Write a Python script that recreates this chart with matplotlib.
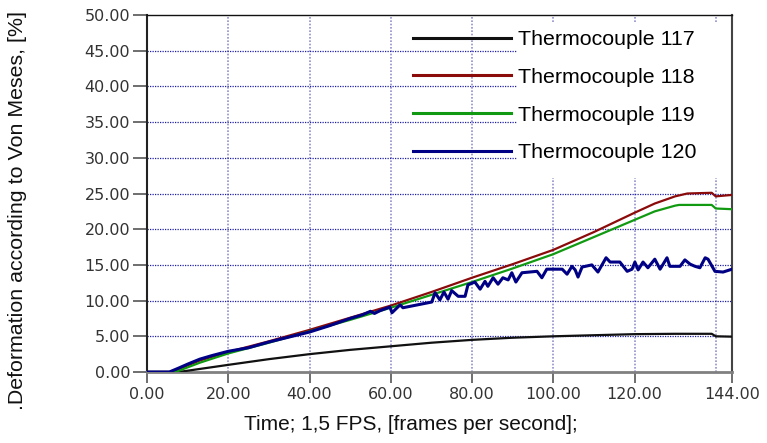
import numpy as np
import matplotlib
matplotlib.use("Agg")
import matplotlib.pyplot as plt
from matplotlib.patches import Rectangle

# values
t_117 = [0, 6, 9, 20, 30, 40, 50, 60, 70, 80, 90, 100, 110, 120, 130, 139, 140, 144]
v_117 = [0, 0, 0.1, 1.0, 1.8, 2.5, 3.1, 3.6, 4.1, 4.5, 4.8, 5.0, 5.15, 5.3, 5.35, 5.35, 5.0, 4.95]

t_118 = [0, 6, 13, 20, 30, 40, 50, 60, 70, 80, 90, 100, 110, 120, 125, 130, 133, 139, 140, 144]
v_118 = [0, 0, 1.6, 2.8, 4.3, 5.9, 7.6, 9.3, 11.2, 13.2, 15.1, 17.1, 19.6, 22.3, 23.6, 24.6, 25.0, 25.1, 24.6, 24.8]

t_119 = [0, 7, 13, 20, 30, 40, 50, 60, 70, 80, 90, 100, 110, 120, 125, 130, 131, 139, 140, 144]
v_119 = [0, 0, 1.3, 2.6, 4.1, 5.7, 7.3, 9.0, 10.8, 12.6, 14.5, 16.5, 18.9, 21.3, 22.5, 23.3, 23.4, 23.4, 22.9, 22.8]

t_120 = [0, 5.5, 8, 10, 13, 16, 20, 25, 30, 35, 40, 45, 50, 53, 55, 56, 57.4, 59.8, 60.3, 62.3,
         63.0, 70.1, 70.9, 72.1, 73.1, 74.1, 75.0, 76.6, 78.3, 79.0, 80.7, 82.0, 83.2, 83.9, 85.2,
         86.4, 87.6, 88.9, 89.8, 90.8, 92.3, 96.0, 97.2, 98.4, 102.2, 103.4, 104.6, 105.4, 106.1,
         107.1, 109.5, 111.0, 113.0, 114.0, 116.4, 118.2, 119.4, 120.1, 120.9, 122.1, 123.3, 125.0,
         126.3, 128.0, 128.7, 131.2, 132.4, 133.7, 134.9, 136.1, 137.4, 138.1, 139.8, 141.8, 144]
v_120 = [0, 0, 0.6, 1.1, 1.8, 2.3, 2.9, 3.4, 4.2, 4.9, 5.6, 6.5, 7.5, 8.0, 8.5, 8.2, 8.6, 9.1, 8.3, 9.4,
         9.0, 9.8, 11.1, 10.1, 11.2, 10.2, 11.4, 10.6, 10.6, 12.2, 12.6, 11.6, 12.7, 12.0, 13.2,
         12.3, 13.2, 12.9, 13.9, 12.6, 13.9, 14.1, 13.2, 14.4, 14.4, 13.7, 14.8, 14.3, 13.3,
         14.7, 15.0, 14.0, 16.0, 15.4, 15.4, 14.1, 14.4, 15.4, 14.3, 15.4, 14.6, 15.8,
         14.4, 16.0, 14.8, 14.8, 15.7, 15.1, 14.8, 14.6, 16.0, 15.8, 14.1, 14.0, 14.4]

labels = ["Thermocouple 117", "Thermocouple 118", "Thermocouple 119", "Thermocouple 120"]
colors = ["#111111", "#8b0a0a", "#119a11", "#000085"]
x_ticks = [0, 20, 40, 60, 80, 100, 120, 144]
x_grid = [20, 40, 60, 80, 100, 120, 140]
y_ticks = [0, 5, 10, 15, 20, 25, 30, 35, 40, 45, 50]

fig = plt.figure(figsize=(7.67, 4.43), dpi=100)
ax = fig.add_axes([147/767, 71/443, 585/767, 357/443])

series = [(t_117, v_117), (t_118, v_118), (t_119, v_119), (t_120, v_120)]
widths = [1.6, 1.6, 1.6, 2.2]
for (t, v), lab, c, w in zip(series, labels, colors, widths):
    ax.plot(t, v, color=c, lw=w, label=lab, zorder=3)

ax.set_xlim(0, 144)
ax.set_ylim(0, 50)
ax.set_xticks(x_ticks)
ax.set_xticklabels(["%.2f" % x for x in x_ticks])
ax.set_yticks(y_ticks)
ax.set_yticklabels(["%.2f" % y for y in y_ticks])
ax.set_xticks(x_grid, minor=True)
ax.tick_params(axis="x", which="minor", length=0)
ax.tick_params(axis="x", which="major", length=8, width=1.2, color="#555555",
               labelsize=11.5, labelcolor="#333333", pad=3)
ax.tick_params(axis="y", length=10, width=1.2, color="#555555",
               labelsize=11.5, labelcolor="#333333", pad=2)
for lab in ax.get_xticklabels() + ax.get_yticklabels():
    lab.set_family("DejaVu Sans")

# grid: vertical light blue, horizontal dotted navy
ax.set_axisbelow(True)
ax.grid(False)
for gx in x_grid:
    ax.axvline(gx, color="#9090cc", lw=1.2, ls=(0, (1, 1)), zorder=0.5)
for gy in y_ticks[1:-1]:
    ax.axhline(gy, color="#2020a0", lw=0.9, ls=(0, (1, 1)), zorder=0.5)

# white patch behind the legend texts
ax.add_patch(Rectangle((91.1, 27.2), 144 - 91.1, 48.9 - 27.2, facecolor="white",
                       edgecolor="none", zorder=1))

ax.spines["left"].set_color("#222222")
ax.spines["left"].set_linewidth(1.5)
ax.spines["bottom"].set_color("#808080")
ax.spines["bottom"].set_linewidth(2)
ax.spines["top"].set_color("#111111")
ax.spines["top"].set_linewidth(1)
ax.spines["right"].set_color("#444444")
ax.spines["right"].set_linewidth(1.5)

leg = ax.legend(loc="upper left", bbox_to_anchor=(413/767, (443-30)/443),
                bbox_transform=fig.transFigure, frameon=False, borderpad=0,
                borderaxespad=0, handlelength=4.6, handletextpad=0.33,
                labelspacing=0.88, prop={"family": "Liberation Sans", "size": 15.4})
for h in leg.get_lines():
    h.set_linewidth(2.2)
leg.set_zorder(5)

fig.text(411/767, (443-425)/443, "Time; 1,5 FPS, [frames per second];",
         family="Liberation Sans", fontsize=15, ha="center", va="center", color="#111111")
fig.text(18/767, (443-211)/443, ".Deformation according to Von Meses, [%]",
         family="Liberation Sans", fontsize=15.4, rotation=90, ha="center", va="center",
         color="#111111")

fig.savefig("out.png", dpi=100)
